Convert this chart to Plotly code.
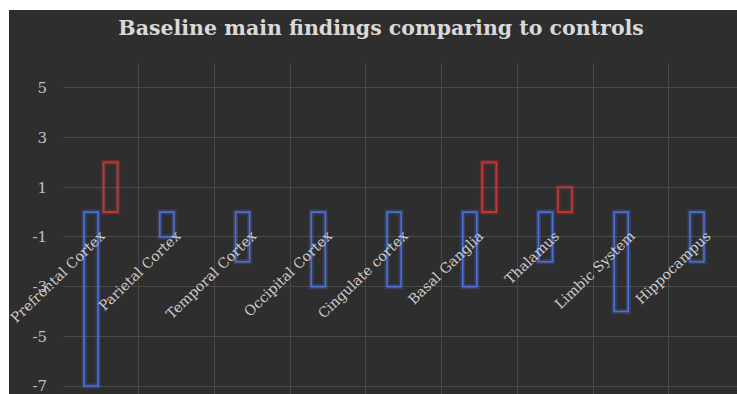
import plotly.graph_objects as go

# Brain regions and the change in each compared with controls
regions = [
    "Prefrontal Cortex", "Parietal Cortex", "Temporal Cortex",
    "Occipital Cortex", "Cingulate cortex", "Basal Ganglia",
    "Thalamus", "Limbic System", "Hippocampus",
]
decreased = [-7, -1, -2, -3, -3, -3, -2, -4, -2]
increased = [2, None, None, None, None, 2, 1, None, None]
y_ticks = [-7, -5, -3, -1, 1, 3, 5]
y_tick_labels = ["-7", "-5", "-3", "-1", "1", "3", "5"]

BG = "#2e2e2e"
GRID = "#494949"
TEXT = "#bfbfbf"
BLUE = "#4d6fd6"
RED = "#c23a3a"
SERIF = "DejaVu Serif"

y_min, y_max = -7.32, 6.0

fig = go.Figure()


def outlined(values, color, glow, group):
    # soft halo under the crisp outline
    fig.add_trace(go.Bar(
        x=regions, y=values, offsetgroup=group,
        marker=dict(color="rgba(0,0,0,0)", line=dict(color=glow, width=5)),
        hoverinfo="skip", showlegend=False,
    ))
    fig.add_trace(go.Bar(
        x=regions, y=values, offsetgroup=group,
        marker=dict(color="rgba(0,0,0,0)", line=dict(color=color, width=1.6)),
        showlegend=False,
    ))


outlined(decreased, BLUE, "rgba(77,111,214,0.28)", "dec")
outlined(increased, RED, "rgba(194,58,58,0.28)", "inc")

fig.update_layout(
    width=737, height=394,
    margin=dict(l=63, r=0, t=63, b=0),
    paper_bgcolor=BG, plot_bgcolor=BG,
    barmode="group", bargap=0.485, bargroupgap=0.28,
    title=dict(
        text="<b>Baseline main findings comparing to controls</b>",
        font=dict(family=SERIF, size=20.5, color="#d9d9d9"),
        x=0.472, xref="paper", xanchor="center",
        y=1 - 28 / 394, yref="container", yanchor="middle",
    ),
    xaxis=dict(
        type="category", range=[-0.5, 8.4],
        tickson="boundaries", showgrid=True, gridcolor=GRID, gridwidth=1,
        anchor="free", position=(0 - y_min) / (y_max - y_min),
        showline=False, zeroline=False,
        ticks="", ticklabelstandoff=12,
        tickangle=-44, tickfont=dict(family=SERIF, size=14, color="#cccccc"),
    ),
    yaxis=dict(
        range=[y_min, y_max], tickvals=y_ticks, ticktext=y_tick_labels,
        showgrid=True, gridcolor=GRID, gridwidth=1, zeroline=False,
        ticks="outside", ticklen=12, tickcolor=BG, ticklabeloverflow="allow",
        tickfont=dict(family=SERIF, size=15, color=TEXT),
    ),
    shapes=[
        # white border strips along the top and left edges
        dict(type="rect", xref="paper", yref="paper",
             x0=-0.2, x1=1.1, y0=1 + 53 / 331, y1=1.3,
             fillcolor="white", line=dict(width=0), layer="below"),
        dict(type="rect", xref="paper", yref="paper",
             x0=-0.2, x1=-54 / 674, y0=-0.1, y1=1.3,
             fillcolor="white", line=dict(width=0), layer="below"),
    ],
)

fig.write_html("out.html")
